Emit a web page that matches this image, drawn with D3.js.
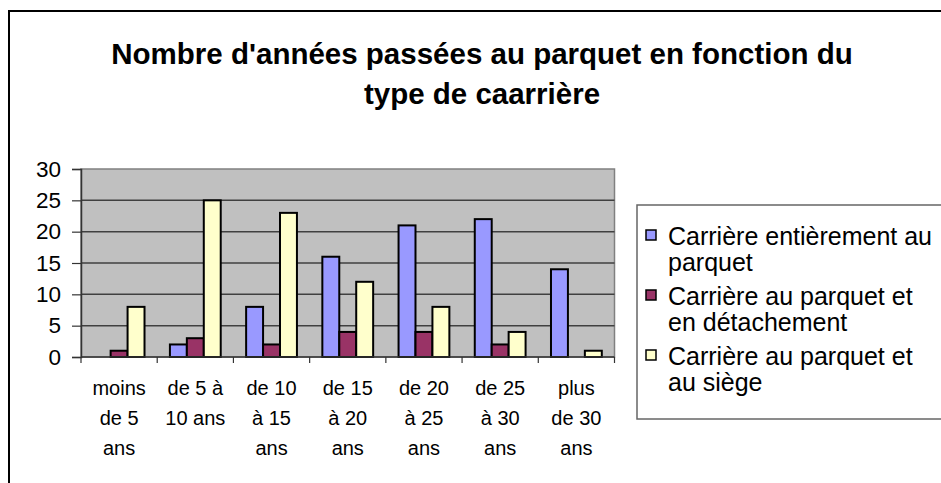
<!DOCTYPE html>
<html><head><meta charset="utf-8">
<script src="https://cdn.jsdelivr.net/npm/d3@7"></script>
<style>html,body{margin:0;padding:0;background:#fff;}svg{display:block;font-family:"Liberation Sans",Arial,sans-serif;}</style>
</head><body>
<script>
const categories = [["moins","de 5","ans"],["de 5 à","10 ans"],["de 10","à 15","ans"],["de 15","à 20","ans"],["de 20","à 25","ans"],["de 25","à 30","ans"],["plus","de 30","ans"]];
const seriesNames = ["Carrière entièrement au parquet","Carrière au parquet et en détachement","Carrière au parquet et au siège"];
const legendLines = [["Carrière entièrement au","parquet"],["Carrière au parquet et","en détachement"],["Carrière au parquet et","au siège"]];
const entierement = [0,2,8,16,21,22,14];
const detachement = [1,3,2,4,4,2,0];
const siege = [8,25,23,12,8,4,1];
const seriesValues = [entierement, detachement, siege];
const colors = ["#9999FF","#993366","#FFFFCC"];
const yTicks = [0,5,10,15,20,25,30];
const titleLines = ["Nombre d'années passées au parquet en fonction du","type de caarrière"];

const W=941,H=483;
const svg=d3.select("body").append("svg").attr("width",W).attr("height",H);
// chart frame
svg.append("rect").attr("x",9).attr("y",11).attr("width",W+20).attr("height",H+20).attr("fill","#fff").attr("stroke","#000").attr("stroke-width",2);

// title
svg.append("g").selectAll("text").data(titleLines).join("text")
  .attr("x",482).attr("y",(d,i)=>64+i*40).attr("text-anchor","middle")
  .attr("font-weight","bold").attr("font-size",29.5).attr("fill","#000").text(d=>d);

const L=81,R=614.5,T=169,B=357;
const idx=d3.range(categories.length);
const x0=d3.scaleBand().domain(idx).range([L,R]).padding(0);
const x1=d3.scaleBand().domain(d3.range(seriesNames.length)).range([0,x0.bandwidth()]).paddingInner(0).paddingOuter(0.75);
const y=d3.scaleLinear().domain([0,30]).range([B,T]);

// plot area
svg.append("rect").attr("x",L).attr("y",T).attr("width",R-L).attr("height",B-T).attr("fill","#C0C0C0").attr("stroke","#808080").attr("stroke-width",1.5);
// gridlines
svg.append("g").selectAll("line").data(yTicks.filter(t=>t>0&&t<30)).join("line")
  .attr("x1",L).attr("x2",R).attr("y1",d=>y(d)).attr("y2",d=>y(d)).attr("stroke","#404040").attr("stroke-width",1.5);

// bars
const groups=svg.append("g").selectAll("g").data(idx).join("g").attr("transform",d=>`translate(${x0(d)},0)`);
groups.selectAll("rect").data(c=>seriesValues.map((s,k)=>({k,v:s[c]}))).join("rect")
  .attr("x",d=>x1(d.k)).attr("width",x1.bandwidth())
  .attr("y",d=>y(d.v)).attr("height",d=>B-y(d.v))
  .attr("fill",d=>colors[d.k]).attr("stroke","#000").attr("stroke-width",d=>d.v>0?2:0);

// y axis
const yAxis=d3.axisLeft(y).tickValues(yTicks).tickSize(9).tickPadding(11);
const ya=svg.append("g").attr("transform",`translate(${L},0)`).call(yAxis);
ya.select(".domain").attr("stroke","#333").attr("stroke-width",1.5);
ya.selectAll(".tick line").attr("stroke","#333").attr("stroke-width",1.2);
ya.selectAll("text").attr("font-size",22.5).attr("fill","#000").attr("font-family","Liberation Sans, Arial, sans-serif");

// x axis
const xa=svg.append("g").attr("transform",`translate(0,${B})`);
xa.append("line").attr("x1",L).attr("x2",R).attr("stroke","#333").attr("stroke-width",1.5);
const bounds=idx.map(i=>x0(i)).concat([R]);
xa.selectAll("line.tk").data(bounds).join("line").attr("class","tk").attr("x1",d=>d).attr("x2",d=>d).attr("y1",0).attr("y2",6).attr("stroke","#333").attr("stroke-width",1.2);
const lab=xa.selectAll("text").data(idx).join("text").attr("text-anchor","middle").attr("font-size",20).attr("fill","#000");
lab.each(function(i){
  const t=d3.select(this);
  categories[i].forEach((s,j)=>t.append("tspan").attr("x",x0(i)+x0.bandwidth()/2).attr("y",38+j*30).text(s));
});

// legend
const lg=svg.append("g");
lg.append("rect").attr("x",637).attr("y",205).attr("width",330).attr("height",214).attr("fill","#fff").attr("stroke","#666").attr("stroke-width",1.5);
const items=lg.selectAll("g").data(seriesNames).join("g").attr("transform",(d,i)=>`translate(0,${245+i*60})`);
items.append("rect").attr("x",646).attr("y",-15).attr("width",10).attr("height",10).attr("fill",(d,i)=>colors[i]).attr("stroke","#000").attr("stroke-width",1.5);
items.each(function(d,i){
  const t=d3.select(this).append("text").attr("font-size",25).attr("fill","#000");
  legendLines[i].forEach((s,j)=>t.append("tspan").attr("x",668).attr("y",j*26).text(s));
});
</script>
</body></html>
